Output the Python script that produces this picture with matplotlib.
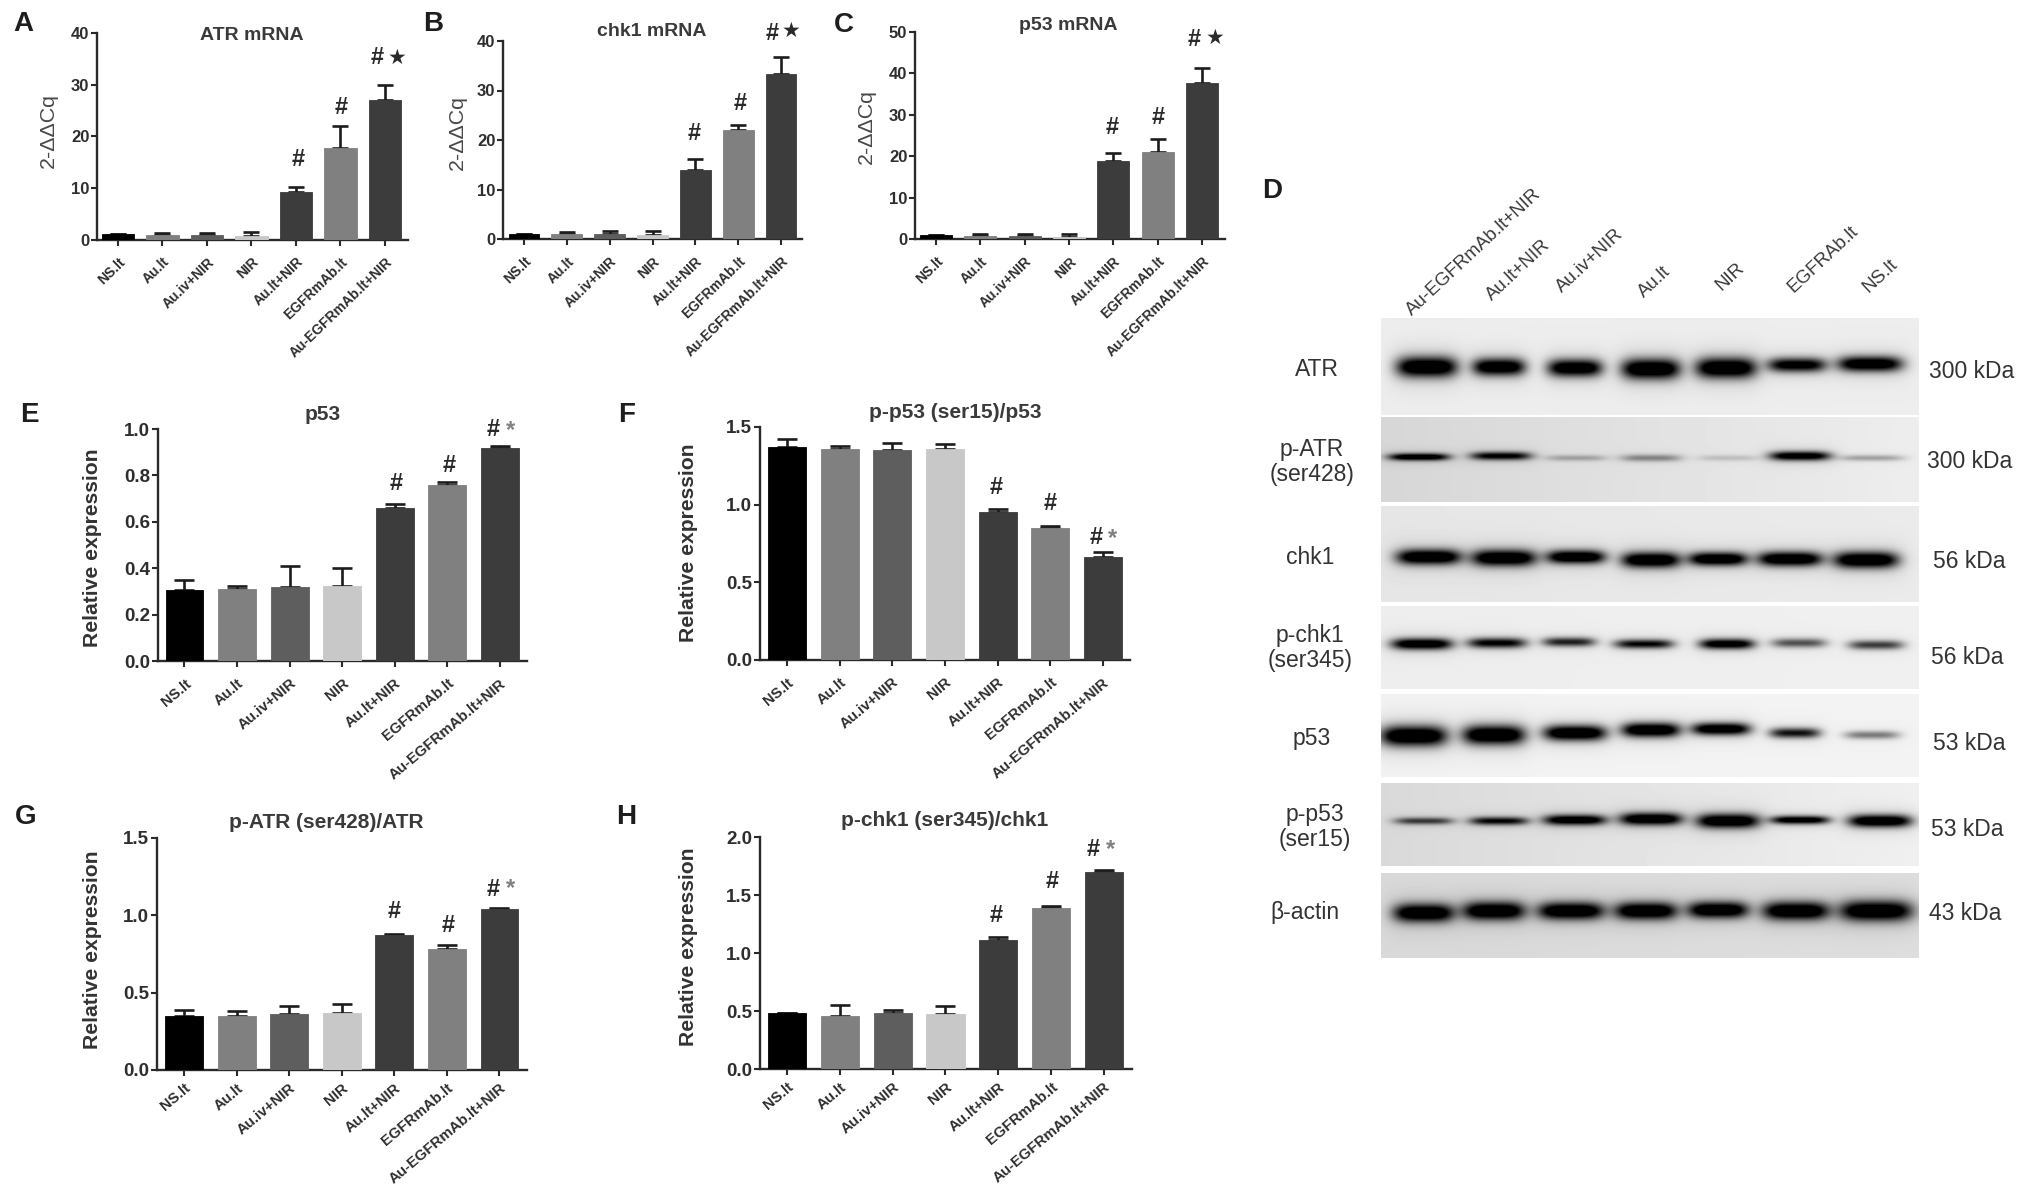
import numpy as np
import matplotlib
matplotlib.use("Agg")
import matplotlib.pyplot as plt
from matplotlib.transforms import ScaledTranslation

plt.rcParams['font.family'] = ['Liberation Sans', 'DejaVu Sans']

# ---------- data ----------
categories = ["NS.lt", "Au.lt", "Au.iv+NIR", "NIR", "Au.lt+NIR", "EGFRmAb.lt", "Au-EGFRmAb.lt+NIR"]
bar_colors = ["#000000", "#808080", "#5e5e5e", "#c8c8c8", "#3c3c3c", "#808080", "#3c3c3c"]

atr_mrna = [1.0, 0.9, 0.9, 0.7, 9.2, 17.7, 27.0]
atr_mrna_top = [1.1, 1.3, 1.3, 1.4, 10.2, 21.9, 29.9]
chk1_mrna = [1.0, 1.0, 1.1, 0.9, 14.0, 22.0, 33.3]
chk1_mrna_top = [1.1, 1.4, 1.6, 1.6, 16.2, 23.0, 36.8]
p53_mrna = [0.9, 0.8, 0.8, 0.6, 18.9, 20.9, 37.6]
p53_mrna_top = [1.0, 1.2, 1.1, 1.3, 20.8, 24.2, 41.3]
p53_rel = [0.305, 0.31, 0.32, 0.325, 0.66, 0.76, 0.92]
p53_rel_top = [0.35, 0.325, 0.41, 0.40, 0.675, 0.77, 0.925]
pp53_rel = [1.37, 1.36, 1.35, 1.36, 0.95, 0.85, 0.665]
pp53_rel_top = [1.42, 1.38, 1.40, 1.39, 0.97, 0.865, 0.695]
patr_rel = [0.35, 0.35, 0.36, 0.37, 0.87, 0.785, 1.04]
patr_rel_top = [0.385, 0.38, 0.415, 0.425, 0.88, 0.805, 1.05]
pchk1_rel = [0.48, 0.46, 0.48, 0.47, 1.11, 1.385, 1.695]
pchk1_rel_top = [0.485, 0.55, 0.51, 0.54, 1.14, 1.405, 1.715]

blot_lanes = ["Au-EGFRmAb.lt+NIR", "Au.lt+NIR", "Au.iv+NIR", "Au.lt", "NIR", "EGFRAb.lt", "NS.lt"]
blot_names = ["ATR", "p-ATR\n(ser428)", "chk1", "p-chk1\n(ser345)", "p53", "p-p53\n(ser15)", "β-actin"]
blot_sizes = ["300 kDa", "300 kDa", "56 kDa", "56 kDa", "53 kDa", "53 kDa", "43 kDa"]
band_strength = [
    [1.0, 0.95, 0.95, 1.0, 1.0, 0.85, 0.95],
    [0.95, 0.8, 0.2, 0.3, 0.12, 0.9, 0.22],
    [1.0, 1.0, 1.0, 1.0, 1.0, 1.0, 1.0],
    [0.95, 0.78, 0.65, 0.75, 0.9, 0.48, 0.55],
    [1.0, 1.0, 1.0, 1.0, 0.95, 0.7, 0.35],
    [0.55, 0.75, 0.95, 1.0, 1.0, 0.9, 1.0],
    [1.0, 1.0, 1.0, 1.0, 1.0, 1.0, 1.0],
]

# ---------- layout, in pixels of the 2031x1196 canvas ----------
W, H = 2031, 1196
fig = plt.figure(figsize=(W / 100, H / 100), dpi=100, facecolor="white")
ov = fig.add_axes([0, 0, 1, 1], zorder=5)
ov.set_xlim(0, W); ov.set_ylim(H, 0); ov.axis("off"); ov.patch.set_alpha(0)

TXT = "#2e2e2e"

panels = [
    dict(letter="A", lpos=(23, 24), ax=(97, 33, 239.5, 408), c=(118, 385), ymax=40, ticks=[0, 10, 20, 30, 40],
         fmt="{:.0f}", v=atr_mrna, t=atr_mrna_top, title="ATR mRNA", tpos=(252, 36), yl="2-ΔΔCq", ylpos=(48, 130),
         hashes=[(298, 159), (341, 107), (377, 58)], star=(397, 58), big=False, pad=7),
    dict(letter="B", lpos=(433, 24), ax=(503, 41, 239, 802), c=(524, 781), ymax=40, ticks=[0, 10, 20, 30, 40],
         fmt="{:.0f}", v=chk1_mrna, t=chk1_mrna_top, title="chk1 mRNA", tpos=(652, 31), yl="2-ΔΔCq", ylpos=(457, 133),
         hashes=[(694, 134), (740, 103), (772, 33)], star=(791, 31), big=False, pad=7),
    dict(letter="C", lpos=(844, 25), ax=(915, 32, 239, 1225), c=(936, 1202), ymax=50, ticks=[0, 10, 20, 30, 40, 50],
         fmt="{:.0f}", v=p53_mrna, t=p53_mrna_top, title="p53 mRNA", tpos=(1068, 25), yl="2-ΔΔCq", ylpos=(866, 127),
         hashes=[(1112, 127), (1158, 117), (1194, 39)], star=(1215, 38), big=False, pad=7),
    dict(letter="E", lpos=(29, 415), ax=(158, 429, 661, 527), c=(184.5, 500), ymax=1.0, ticks=[0, .2, .4, .6, .8, 1.0],
         fmt="{:.1f}", v=p53_rel, t=p53_rel_top, title="p53", tpos=(323, 415), yl="Relative expression", ylpos=(92, 548),
         hashes=[(396, 483), (449, 465), (493, 429)], star=(511, 431), big=True, pad=7),
    dict(letter="F", lpos=(627, 415), ax=(760, 427, 660, 1130), c=(787, 1103), ymax=1.5, ticks=[0, .5, 1.0, 1.5],
         fmt="{:.1f}", v=pp53_rel, t=pp53_rel_top, title="p-p53 (ser15)/p53", tpos=(955, 413), yl="Relative expression", ylpos=(689, 543),
         hashes=[(996, 488), (1050, 503), (1096, 537)], star=(1113, 539), big=True, pad=7),
    dict(letter="G", lpos=(26, 817), ax=(157, 838, 1070, 527), c=(184, 499.5), ymax=1.5, ticks=[0, .5, 1.0, 1.5],
         fmt="{:.1f}", v=patr_rel, t=patr_rel_top, title="p-ATR (ser428)/ATR", tpos=(326, 822), yl="Relative expression", ylpos=(92, 950),
         hashes=[(394, 912), (448, 925), (493, 889)], star=(511, 889), big=True, pad=4),
    dict(letter="H", lpos=(626, 817), ax=(760, 837, 1069, 1132), c=(787, 1104), ymax=2.0, ticks=[0, .5, 1.0, 1.5, 2.0],
         fmt="{:.1f}", v=pchk1_rel, t=pchk1_rel_top, title="p-chk1 (ser345)/chk1", tpos=(945, 820), yl="Relative expression", ylpos=(689, 947),
         hashes=[(996, 916), (1052, 882), (1093, 850)], star=(1111, 850), big=True, pad=4),
]

for p in panels:
    x0, ytop, y0, xend = p["ax"]
    c0, c6 = p["c"]
    step = (c6 - c0) / 6
    big = p["big"]
    ax = fig.add_axes([x0 / W, 1 - y0 / H, (xend - x0) / W, (y0 - ytop) / H])
    ax.patch.set_alpha(0)
    xs = np.arange(7)
    vals = np.array(p["v"]); tops = np.array(p["t"])
    ax.errorbar(xs, vals, yerr=[np.zeros(7), tops - vals], fmt="none", ecolor="#1c1c1c",
                elinewidth=1.9, capsize=7 if big else 5.5, capthick=1.9, zorder=2)
    ax.bar(xs, vals, width=0.72, color=bar_colors, edgecolor=bar_colors, linewidth=0.6, zorder=3)
    ax.set_xlim((x0 - c0) / step, (xend - c0) / step)
    ax.set_ylim(0, p["ymax"])
    for s in ("top", "right"):
        ax.spines[s].set_visible(False)
    for s in ("left", "bottom"):
        ax.spines[s].set_linewidth(1.7); ax.spines[s].set_color("#2a2a2a")
    ax.set_yticks(p["ticks"])
    ax.set_yticklabels([p["fmt"].format(t) for t in p["ticks"]], fontsize=13.5 if big else 12,
                       fontweight="bold", color=TXT)
    ax.set_xticks(xs)
    ax.set_xticklabels(categories, rotation=40 if big else 44, ha="right", va="top", rotation_mode="anchor",
                       fontsize=10.8 if big else 10, fontweight="bold", color=TXT)
    shift = ScaledTranslation((8 if big else 13) / 100, 0, fig.dpi_scale_trans)
    for lab in ax.get_xticklabels():
        lab.set_transform(lab.get_transform() + shift)
    ax.tick_params(axis="both", length=4, width=1.5, color="#2a2a2a")
    ax.tick_params(axis="y", pad=1.5)
    ax.tick_params(axis="x", pad=p["pad"])
    ax.margins(0)

    ov.text(*p["lpos"], p["letter"], fontsize=20, fontweight="bold", color="#1e1e1e", ha="center", va="center")
    ov.text(*p["tpos"], p["title"], fontsize=15 if big else 14, fontweight="bold", color="#3a3a3a",
            ha="center", va="center")
    ov.text(*p["ylpos"], p["yl"], rotation=90, ha="center", va="center",
            fontsize=15.2 if big else 15.4, fontweight="bold" if big else "normal",
            color="#333333" if big else "#484848")
    for hx, hy in p["hashes"]:
        ov.text(hx, hy, "#", fontsize=17, fontweight="bold", color="#2a2a2a", ha="center", va="center")
    if big:
        ov.text(*p["star"], "*", fontsize=17, fontweight="bold", color="#808080", ha="center", va="center")
    else:
        ov.text(*p["star"], "★", fontsize=15, color="#2a2a2a", family="DejaVu Sans", ha="center", va="center")

# ---------- panel D: blot ----------
ov.text(1272, 191, "D", fontsize=20, fontweight="bold", color="#1e1e1e", ha="center", va="center")

lane_starts = [(1409, 313), (1489, 298), (1559, 290), (1641, 295), (1718, 288), (1790, 290), (1865, 290)]
for (lx, ly), name in zip(lane_starts, blot_lanes):
    ov.text(lx, ly, name, rotation=43, rotation_mode="anchor", ha="left", va="center", fontsize=13.5, color="#3a3a3a")

strip_x = (1381, 1919)
strip_y = [(318, 415), (417, 502), (506, 602), (606, 689), (694, 777), (783, 866), (873, 958)]
strip_bg = [(0.93, 0.93), (0.84, 0.93), (0.90, 0.92), (0.93, 0.94), (0.95, 0.95), (0.85, 0.94), (0.85, 0.87)]
band_x = [
    [1427, 1499, 1575, 1651, 1726, 1797, 1870],
    [1419, 1501, 1576, 1651, 1728, 1800, 1872],
    [1429, 1504, 1576, 1651, 1718, 1790, 1866],
    [1422, 1497, 1569, 1644, 1727, 1799, 1876],
    [1414, 1494, 1575, 1651, 1721, 1795, 1872],
    [1424, 1499, 1575, 1651, 1728, 1800, 1880],
    [1424, 1494, 1571, 1646, 1718, 1796, 1876],
]
band_y = [
    [367, 367, 368, 369, 368, 365, 364],
    [457, 456, 458, 458, 458, 456, 458],
    [557, 558, 557, 560, 559, 559, 560],
    [644, 643, 642, 644, 644, 643, 645],
    [736, 735, 733, 730, 729, 733, 735],
    [821, 821, 820, 819, 821, 820, 821],
    [913, 911, 911, 911, 910, 911, 911],
]
band_hw = [
    [30, 26, 27, 29, 30, 29, 32],
    [30, 30, 30, 30, 30, 30, 32],
    [32, 32, 29, 29, 29, 32, 32],
    [30, 29, 26, 29, 27, 27, 27],
    [33, 31, 31, 29, 29, 25, 27],
    [29, 29, 31, 31, 31, 29, 31],
    [30, 31, 33, 31, 30, 33, 36],
]
band_t = [
    [10, 8.5, 8.5, 10, 10, 7, 7.5],
    [3.5, 4, 3, 3.5, 3, 4.5, 3],
    [7.5, 8, 6.5, 7.5, 6.5, 7, 8],
    [5.5, 5, 4.5, 4.5, 5, 4.5, 4.5],
    [10, 9.5, 7.5, 7, 6, 5, 4],
    [3.5, 4, 5, 6, 7, 4, 6],
    [9, 9, 8.5, 8.5, 8, 9, 10],
]

for row in range(7):
    y0, y1 = strip_y[row]
    x0, x1 = strip_x
    gx, gy = np.meshgrid(np.arange(x0, x1) + 0.5, np.arange(y0, y1) + 0.5)
    bg = np.interp(gx, [x0, x1], strip_bg[row])
    dark = np.zeros_like(gx)
    halo = np.zeros_like(gx)
    for k in range(7):
        s = band_strength[row][k]
        dx = (gx - band_x[row][k]) / band_hw[row][k]
        dy = (gy - band_y[row][k]) / band_t[row][k]
        dark += s * np.exp(-np.abs(dx) ** 4) * np.exp(-dy ** 2)
        halo += 0.12 * s * np.exp(-np.abs(dx / 1.25) ** 4) * np.exp(-(dy / 2.2) ** 2)
    img = bg * (1 - np.clip(dark * 1.35, 0, 1)) * (1 - halo)
    ov.imshow(img, cmap="gray", vmin=0, vmax=1, extent=[x0, x1, y1, y0], aspect="auto",
              interpolation="bilinear", zorder=1)
ov.set_xlim(0, W); ov.set_ylim(H, 0)

name_pos = [(1317, 369), (1312, 462), (1310, 557), (1310, 648), (1312, 738), (1315, 827), (1305, 913)]
size_pos = [(1972, 372), (1970, 461), (1969, 562), (1967, 657), (1969, 743), (1967, 829), (1965, 914)]
for (nx, ny), name in zip(name_pos, blot_names):
    ov.text(nx, ny, name, fontsize=16.5, color="#333333", ha="center", va="center", linespacing=1.1)
for (sx, sy), label in zip(size_pos, blot_sizes):
    ov.text(sx, sy, label, fontsize=16.5, color="#333333", ha="center", va="center")

fig.savefig("out.png", dpi=100, facecolor="white")
